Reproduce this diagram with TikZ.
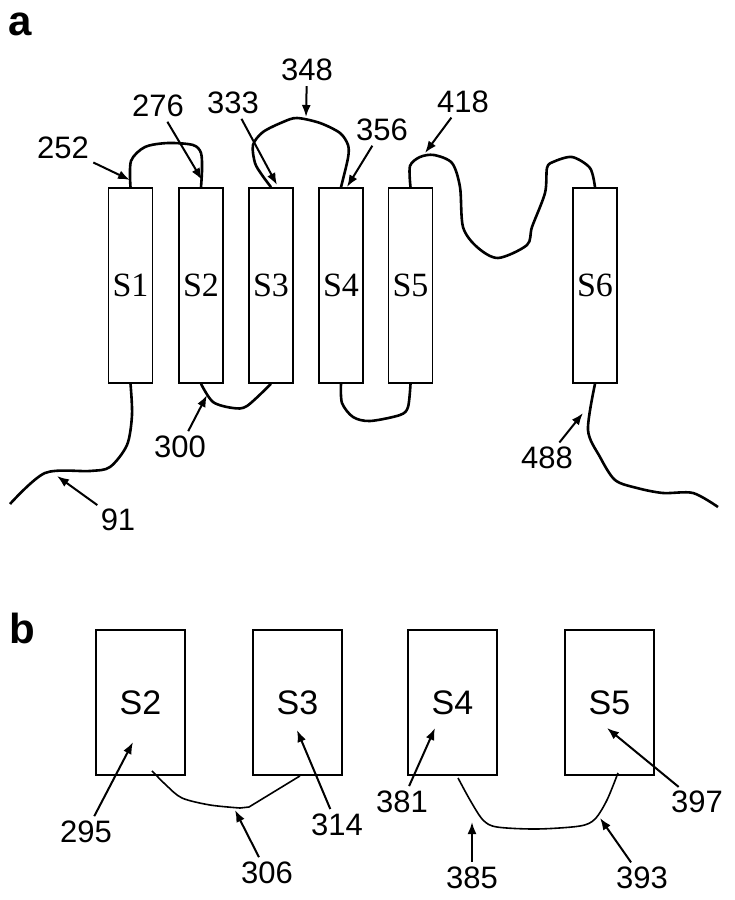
\documentclass[tikz,border=0pt]{standalone}
\usepackage{fontspec}
\setmainfont{Liberation Serif}
\newfontfamily\arial{Liberation Sans}
\usetikzlibrary{arrows.meta}

\begin{document}
\begin{tikzpicture}[x=1pt,y=-1pt,
  seg/.style={draw,line width=1.6pt,minimum width=44pt,minimum height=195pt,inner sep=0pt,
    font=\fontsize{34}{36}\selectfont},
  segb/.style={draw,line width=1.8pt,minimum width=89pt,minimum height=145pt,inner sep=0pt,
    font=\arial\fontsize{34}{38}\selectfont},
  num/.style={inner sep=2pt,font=\arial\fontsize{31}{36}\selectfont},
  panel/.style={inner sep=0pt,font=\arial\bfseries\fontsize{42}{46}\selectfont},
  chain/.style={line width=2.6pt,line join=round},
  chainb/.style={line width=1.6pt,line join=round},
  pin/.style={line width=2pt,shorten <=3pt,-{Latex[length=12pt,width=9pt]}}]
\useasboundingbox (0,0) rectangle (734,900);

\node[panel] (pa) at (20,24) {a};
\node[seg] (s1) at (130.5,285.5) {S1};
\node[seg] (s2) at (201,285.5) {S2};
\node[seg] (s3) at (271,285.5) {S3};
\node[seg] (s4) at (341,285.5) {S4};
\node[seg] (s5) at (410.5,285.5) {S5};
\node[seg] (s6) at (595,285.5) {S6};

\draw[chain] plot[smooth,tension=0.5] coordinates {(s1.north) (131,161) (145,147) (168,143) (193,145) (201,153) (202,170) (s2.north)};
\draw[chain] plot[smooth,tension=0.5] coordinates {(s3.north) (262,175) (255,163) (253,145) (263,132) (283,122) (297,118) (320,123) (340,133) (348,145) (348,158) (s4.north)};
\draw[chain] plot[smooth,tension=0.5] coordinates {(s5.north) (410,166) (420,157) (434,155) (452,163) (460,187) (463,227) (477,247) (498,258) (527,245) (532,227) (545,193) (547,168) (553,162) (572,157) (590,168) (s6.north)};
\draw[chain] plot[smooth,tension=0.5] coordinates {(s1.south) (132,415) (127,445) (110,467) (90,471) (45,473) (10,504)};
\draw[chain] plot[smooth,tension=0.5] coordinates {(s2.south) (213,402) (233,408) (247,406) (s3.south)};
\draw[chain] plot[smooth,tension=0.5] coordinates {(s4.south) (342,403) (353,417) (370,421) (400,415) (408,407) (s5.south)};
\draw[chain] plot[smooth,tension=0.5] coordinates {(s6.south) (588,430) (600,457) (615,480) (637,488) (663,493) (693,493) (718,507)};

\coordinate (t252) at (130,180);
\coordinate (t276) at (202,180);
\coordinate (t333) at (277,185);
\coordinate (t348) at (306,117);
\coordinate (t356) at (347,187);
\coordinate (t418) at (425,153);
\coordinate (t91) at (57,476);
\coordinate (t300) at (207,395);
\coordinate (t488) at (583,413);
\node[num] (l252) at (63,148) {252};
\node[num] (l276) at (158,106) {276};
\node[num] (l333) at (233,103) {333};
\node[num] (l348) at (307,70) {348};
\node[num] (l356) at (382,130) {356};
\node[num] (l418) at (463,102) {418};
\node[num] (l91) at (118,520) {91};
\node[num] (l300) at (180,447) {300};
\node[num] (l488) at (547,458) {488};
\foreach \n in {252,276,333,348,356,418,91,300,488}
  \draw[pin] (l\n) -- (t\n);

\node[panel] (pb) at (22,628) {b};
\node[segb] (b2) at (140.5,702.5) {S2};
\node[segb] (b3) at (297.5,702.5) {S3};
\node[segb] (b4) at (452.5,702.5) {S4};
\node[segb] (b5) at (609.5,702.5) {S5};

\draw[chainb] plot[smooth,tension=0.5] coordinates {([xshift=11.5pt,yshift=5pt]b2.south) (166,785) (182,798) (210,805) (240,808)} -- (249,807) -- ([xshift=2.5pt]b3.south);
\draw[chainb] plot[smooth,tension=0.5] coordinates {([xshift=5.5pt,yshift=-2pt]b4.south) (470,800) (483,820) (497,827) (537,829) (580,826) (595,819) (607,800) ([xshift=8.5pt,yshift=3pt]b5.south)};

\coordinate (t295) at (133,742);
\coordinate (t306) at (235,810);
\coordinate (t314) at (297,730);
\coordinate (t381) at (435,728);
\coordinate (t385) at (472,822);
\coordinate (t393) at (600,818);
\coordinate (t397) at (607,728);
\node[num] (l295) at (86,832) {295};
\node[num] (l306) at (267,873) {306};
\node[num] (l314) at (337,825) {314};
\node[num] (l381) at (402,802) {381};
\node[num] (l385) at (472,878) {385};
\node[num] (l393) at (642,878) {393};
\node[num] (l397) at (697,802) {397};
\foreach \n in {295,306,314,381,385,393,397}
  \draw[pin] (l\n) -- (t\n);
\end{tikzpicture}
\end{document}
